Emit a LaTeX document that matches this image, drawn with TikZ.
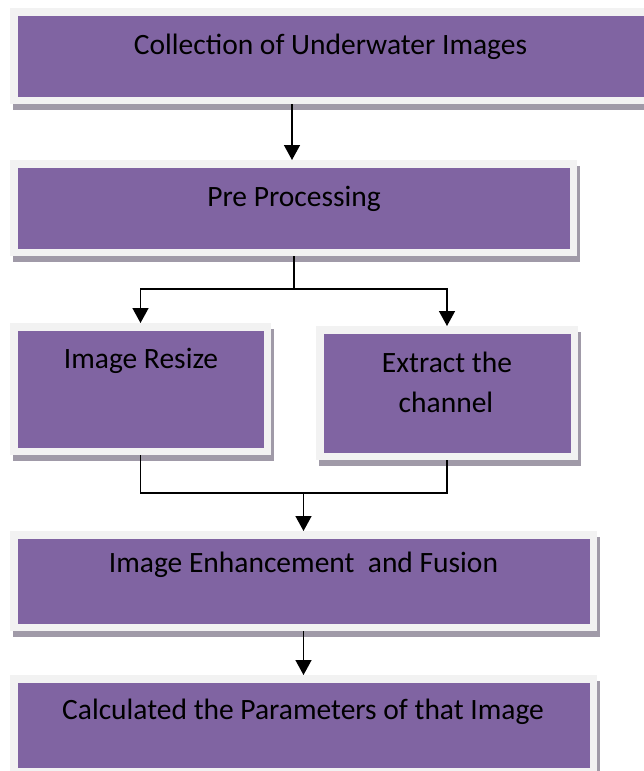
\documentclass[tikz,border=0pt]{standalone}
\usepackage{fontspec}
\setmainfont{Carlito}
\usetikzlibrary{arrows.meta,calc}

\definecolor{boxpurple}{HTML}{8064A2}
\definecolor{framegray}{HTML}{F2F2F2}
\definecolor{shadowgray}{HTML}{A09AA8}

\tikzset{
  stagebox/.style={
    draw=framegray, line width=7.5pt, fill=boxpurple,
    inner sep=0pt, outer sep=3.75pt,
    preaction={draw=shadowgray, fill=shadowgray, line width=7.5pt,
               transform canvas={xshift=2.5pt, yshift=-6pt}}
  },
  stagetext/.style={anchor=base, inner sep=0pt, font=\fontsize{29.5}{35}\selectfont, text=black},
  link/.style={draw=black, line width=1.5pt},
  arr/.style={link, -{Triangle[width=16pt,length=15pt]}}
}

\begin{document}
\begin{tikzpicture}[x=1pt, y=-1pt]
  \useasboundingbox (0,0) rectangle (643,771);

  % stages (outer frame size minus the frame width)
  \node[stagebox, minimum width=633.5pt, minimum height=88.5pt] (b1) at (330.5,56) {};
  \node[stagebox, minimum width=559.5pt, minimum height=88.5pt] (b2) at (293.5,208) {};
  \node[stagebox, minimum width=253.5pt, minimum height=124.5pt] (b3) at (140.5,389) {};
  \node[stagebox, minimum width=254.5pt, minimum height=126.5pt] (b4) at (447,393) {};
  \node[stagebox, minimum width=579.5pt, minimum height=92.5pt] (b5) at (303.5,581) {};
  \node[stagebox, minimum width=579.5pt, minimum height=92.5pt] (b6) at (303.5,725) {};

  % labels
  \node[stagetext] (t1) at (330.5,54) {Collection of Underwater Images};
  \node[stagetext] (t2) at (294,206) {Pre Processing};
  \node[stagetext] (t3) at (141,368) {Image Resize};
  \node[stagetext] (t4a) at (447,372) {Extract the};
  \node[stagetext] (t4b) at (446,412) {channel};
  \node[stagetext] (t5) at (303.5,572) {Image Enhancement\ \ and Fusion};
  \node[stagetext] (t6) at (303,719) {Calculated the Parameters of that Image};

  % connectors
  \coordinate (xa) at (292,0);
  \coordinate (sp) at (294,289);
  \coordinate (mg) at (303.5,493);

  \draw[arr] (b1.south -| xa) -- (b2.north -| xa);
  \draw[link] (b2.south -| sp) -- (sp);
  \draw[arr] (sp) -| (b3.north);
  \draw[arr] (sp) -| (b4.north);
  \draw[link] (b3.south) |- (mg);
  \draw[link] (b4.south) |- (mg);
  \draw[arr] (mg) -- (b5.north);
  \draw[arr] (b5.south) -- (b6.north);
\end{tikzpicture}
\end{document}
